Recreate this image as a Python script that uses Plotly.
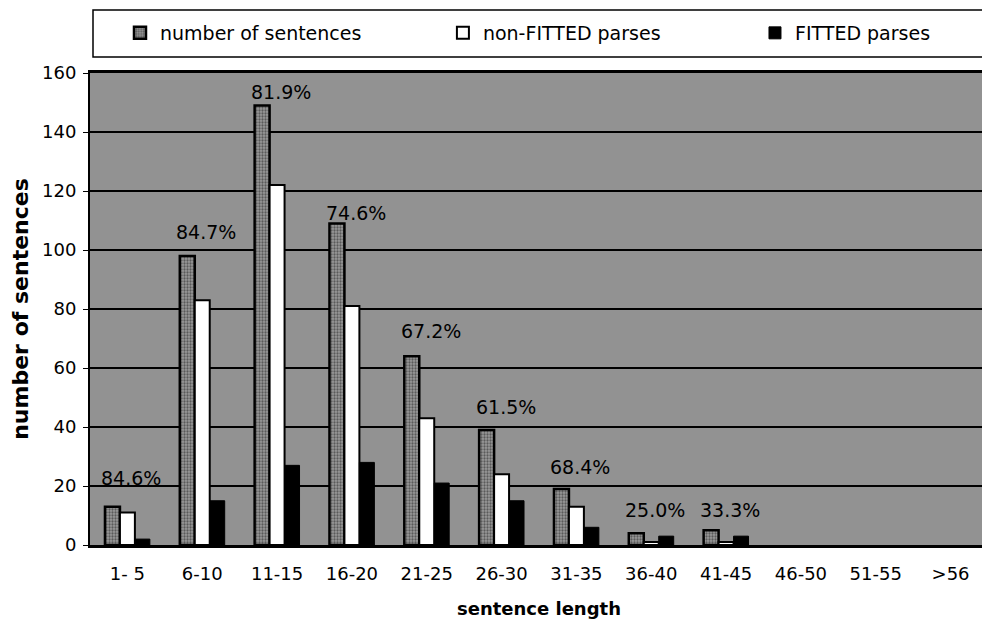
import plotly.graph_objects as go

categories = ["1- 5", "6-10", "11-15", "16-20", "21-25", "26-30", "31-35",
              "36-40", "41-45", "46-50", "51-55", ">56"]
num_sentences = [13, 98, 149, 109, 64, 39, 19, 4, 5, 0, 0, 0]
non_fitted = [11, 83, 122, 81, 43, 24, 13, 1, 1, 0, 0, 0]
fitted = [2, 15, 27, 28, 21, 15, 6, 3, 3, 0, 0, 0]

pct_categories = ["1- 5", "6-10", "11-15", "16-20", "21-25", "26-30", "31-35", "36-40", "41-45"]
pct_labels = ["84.6%", "84.7%", "81.9%", "74.6%", "67.2%", "61.5%", "68.4%", "25.0%", "33.3%"]
pct_label_heights = [22.7, 106, 153.5, 112.5, 72.5, 46.8, 26.4, 11.9, 11.9]

y_ticks = [0, 20, 40, 60, 80, 100, 120, 140, 160]

FONT = "DejaVu Sans"


def outline(values, w):
    return [w if v > 0 else 0 for v in values]


fig = go.Figure()
fig.add_trace(go.Bar(
    x=categories, y=num_sentences, name="number of sentences", legend="legend",
    marker=dict(color="#7a7a7a", line=dict(color="black", width=outline(num_sentences, 2.5)),
                pattern=dict(shape=".", fgcolor="#1a1a1a", bgcolor="#9a9a9a",
                             size=3, solidity=0.45)),
))
fig.add_trace(go.Bar(
    x=categories, y=non_fitted, name="non-FITTED parses", legend="legend2",
    marker=dict(color="white", line=dict(color="black", width=outline(non_fitted, 2))),
))
fig.add_trace(go.Bar(
    x=categories, y=fitted, name="FITTED parses", legend="legend3",
    marker=dict(color="black", line=dict(color="black", width=outline(fitted, 1))),
))

for c, t, h in zip(pct_categories, pct_labels, pct_label_heights):
    fig.add_annotation(x=c, y=h, text=t, showarrow=False, xshift=4,
                       font=dict(family=FONT, size=19, color="black"))

# legend frame
fig.add_shape(type="rect", xref="paper", yref="paper",
              x0=3 / 898, x1=1.0, y0=1 + 16 / 472, y1=1 + 63 / 472,
              line=dict(color="black", width=1.5), fillcolor="white", layer="below")

leg_common = dict(orientation="h", xanchor="left", y=1 + 40 / 472, yanchor="middle",
                  font=dict(family=FONT, size=19, color="black"),
                  bgcolor="rgba(0,0,0,0)", borderwidth=0, itemclick=False)

fig.update_layout(
    width=982, height=620,
    margin=dict(l=82, r=2, t=65, b=83, autoexpand=False),
    paper_bgcolor="white",
    plot_bgcolor="#929292",
    barmode="group", bargap=0.4, bargroupgap=0.0,
    font=dict(family=FONT, size=18, color="black"),
    showlegend=True,
    legend=dict(x=0.0334, **leg_common),
    legend2=dict(x=0.393, **leg_common),
    legend3=dict(x=0.7405, **leg_common),
    xaxis=dict(
        title=dict(text="<b>sentence length</b>", font=dict(family=FONT, size=18), standoff=20),
        tickfont=dict(family=FONT, size=18), ticklabelstandoff=10,
        showline=True, linecolor="black", linewidth=3, mirror=True,
        ticks="", showgrid=False,
    ),
    yaxis=dict(
        title=dict(text="<b>number of sentences</b>", font=dict(family=FONT, size=22), standoff=11),
        range=[0, 160], tickvals=y_ticks,
        tickfont=dict(family=FONT, size=18), ticklabelstandoff=3,
        showline=True, linecolor="black", linewidth=2,
        ticks="outside", ticklen=5, tickcolor="black",
        showgrid=True, gridcolor="black", gridwidth=2,
        zeroline=False,
    ),
)

fig.write_html("out.html")
